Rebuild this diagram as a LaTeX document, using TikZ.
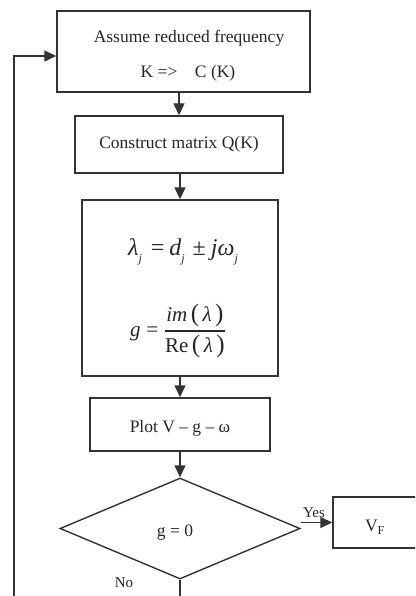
\documentclass[tikz,border=0pt]{standalone}
\usepackage{fontspec}
\usepackage{amsmath}
\setmainfont{Liberation Serif}
\usetikzlibrary{arrows.meta,shapes.geometric}
\newcommand{\lowsub}[1]{\raisebox{-7pt}{\fontsize{12}{12}\selectfont\itshape #1}}
\newcommand{\bigpar}[1]{{\fontsize{25}{25}\selectfont #1}}
\begin{document}
\begin{tikzpicture}[x=1pt,y=-1pt,
  line/.style={draw=black!80, line width=1.4pt},
  arr/.style={line, -{Triangle[length=12pt,width=11pt]}},
  txt/.style={inner sep=0pt, text=black!85, font=\fontsize{17.5}{21}\selectfont},
  box/.style={line, rectangle, txt},
  small/.style={inner sep=0pt, text=black!85, font=\fontsize{15}{18}\selectfont}]
\useasboundingbox (0,0) rectangle (415,596);
\clip (0,0) rectangle (415,596);

% process boxes
\node[box, minimum width=253pt, minimum height=81pt] (assume) at (183.5,51.5) {};
\node[txt] (assumeA) at (189,38) {Assume reduced frequency};
\node[txt] (assumeB) at (188,73) {K =>\quad C (K)};

\node[box, minimum width=208pt, minimum height=57pt] (construct) at (179,144.5) {Construct matrix Q(K)};

\node[box, minimum width=196pt, minimum height=176pt] (eig) at (180,288) {};
\node[txt, font=\fontsize{24}{28}\selectfont] (eigA) at (183,252)
  {{\itshape λ}\lowsub{j}\hspace*{9pt}=\hspace*{5pt}{\itshape d}\lowsub{j}\hspace*{8pt}±\hspace*{5pt}{\itshape jω}\lowsub{j}};
\node[txt, font=\fontsize{21}{24}\selectfont] (eigB) at (178,331)
  {$\text{\itshape g}\mathrel{\text{=}}\genfrac{}{}{1.1pt}{0}{\text{\itshape im}\,\text{\bigpar{(}}\,\text{\itshape λ}\,\text{\bigpar{)}}}{\text{Re}\,\text{\bigpar{(}}\,\text{\itshape λ}\,\text{\bigpar{)}}}$};

\node[box, minimum width=180pt, minimum height=53pt] (plot) at (180,424.5) {};
\node[txt] (plotA) at (180,428) {Plot V – g – ω};

% decision
\node[line, diamond, minimum width=240pt, minimum height=101pt, inner sep=0pt] (decide) at (180,528.5) {};
\node[txt] (decideA) at (175,533) {g = 0};

\node[box, minimum width=127pt, minimum height=51pt] (vf) at (396.5,522.5) {};
\node[txt] (vfA) at (375,527) {V\textsubscript{F}};

% connectors
\draw[arr] (construct.north |- assume.south) -- (construct.north);
\draw[arr] (construct.south -| eig.north) -- (eig.north);
\draw[arr] (eig.south) -- (plot.north);
\draw[arr] (plot.south) -- (decide.north);
\draw[arr] ([yshift=6pt]decide.east) -- (vf.west);
\node[small] (yes) at (314,513) {Yes};
\node[small] (no) at (124,583) {No};

\coordinate (loopbase) at (14,620);
\draw[arr] (decide.south) |- (loopbase) |- ([yshift=-4.5pt]assume.west);
\end{tikzpicture}
\end{document}
